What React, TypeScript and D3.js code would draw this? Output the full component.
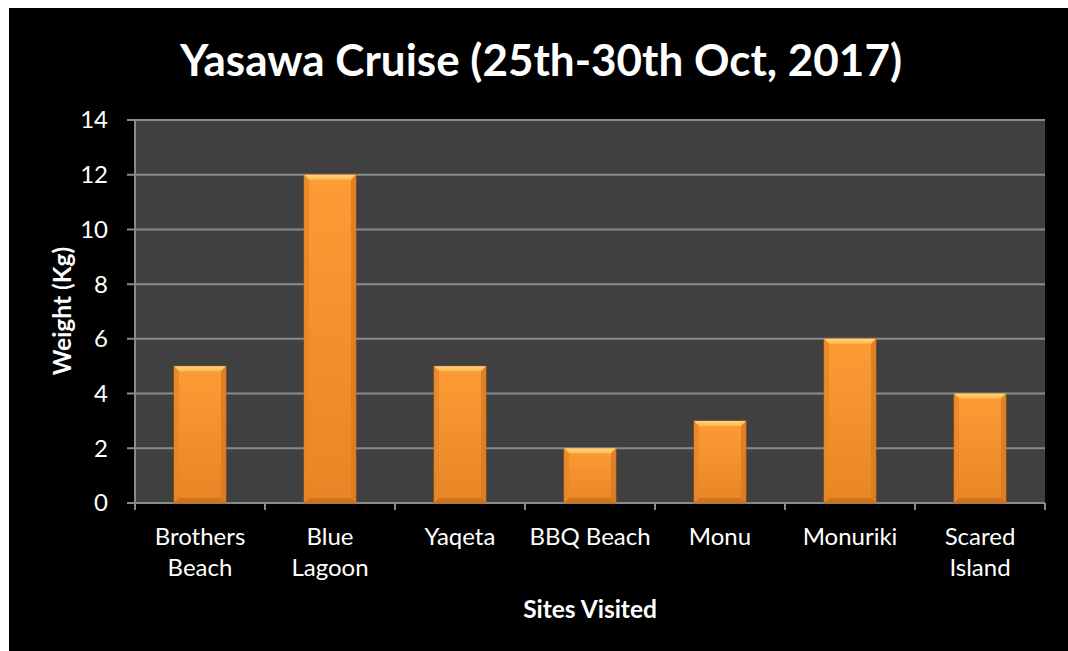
import React from "react";
import * as d3 from "d3";

const categories: string[][] = [
  ["Brothers", "Beach"],
  ["Blue", "Lagoon"],
  ["Yaqeta"],
  ["BBQ Beach"],
  ["Monu"],
  ["Monuriki"],
  ["Scared", "Island"],
];
const values: number[] = [5, 12, 5, 2, 3, 6, 4];
const yTicks: number[] = [0, 2, 4, 6, 8, 10, 12, 14];
const title = "Yasawa Cruise (25th-30th Oct, 2017)";
const xTitle = "Sites Visited";
const yTitle = "Weight (Kg)";

const OX = 9;
const OY = 8;
const W = 1150;
const H = 720;
const left = 135 - OX;
const right = 1045 - OX;
const top = 120 - OY;
const bottom = 503 - OY;
const font = "Lato, 'Open Sans', sans-serif";

export default function App() {
  const keys = categories.map((c) => c.join(" "));
  const x = d3.scaleBand<string>().domain(keys).range([left, right]).paddingInner(0.6).paddingOuter(0.3);
  const y = d3.scaleLinear().domain([0, 14]).range([bottom, top]);
  const bev = 5;
  const boundaries = d3.range(keys.length + 1).map((i) => left + i * ((right - left) / keys.length));
  return (
    <svg width={W} height={H} style={{ position: "fixed", left: OX, top: OY, display: "block" }}>
      <defs>
        <linearGradient id="barBody" x1="0" y1="0" x2="0" y2="1">
          <stop offset="0" stopColor="#FD9C36" />
          <stop offset="1" stopColor="#E88526" />
        </linearGradient>
        <linearGradient id="bevTop" x1="0" y1="0" x2="0" y2="1">
          <stop offset="0" stopColor="#FFD680" />
          <stop offset="1" stopColor="#FFB850" />
        </linearGradient>
      </defs>
      <rect x={0} y={0} width={W} height={H} fill="#000" />
      <rect x={left} y={top} width={right - left} height={bottom - top} fill="#404040" />
      {yTicks.map((t) => (
        <g key={t}>
          <line x1={left - 8} x2={right} y1={y(t)} y2={y(t)} stroke="#8a8a8a" strokeWidth={2} />
          <text x={108 - OX} y={y(t)} dy="0.35em" textAnchor="end" fill="#fff" fontFamily={font} fontSize={24}>
            {t}
          </text>
        </g>
      ))}
      <line x1={left} x2={left} y1={top} y2={bottom} stroke="#8a8a8a" strokeWidth={2} />
      {boundaries.map((b, i) => (
        <line key={i} x1={b} x2={b} y1={bottom} y2={bottom + 7} stroke="#8a8a8a" strokeWidth={2} />
      ))}
      {keys.map((k, i) => {
        const bx = x(k)!;
        const bw = x.bandwidth();
        const by = y(values[i]);
        const bh = bottom - by;
        return (
          <g key={k}>
            <rect x={bx} y={by} width={bw} height={bh} fill="url(#barBody)" stroke="#B8661A" strokeWidth={0.8} />
            <polygon
              points={`${bx},${by} ${bx + bw},${by} ${bx + bw - bev},${by + bev} ${bx + bev},${by + bev}`}
              fill="url(#bevTop)"
            />
            <polygon
              points={`${bx},${by} ${bx + bev},${by + bev} ${bx + bev},${by + bh - bev} ${bx},${by + bh}`}
              fill="#E98627"
              opacity={0.8}
            />
            <polygon
              points={`${bx + bw},${by} ${bx + bw - bev},${by + bev} ${bx + bw - bev},${by + bh - bev} ${bx + bw},${by + bh}`}
              fill="#D97A20"
              opacity={0.8}
            />
            <polygon
              points={`${bx},${by + bh} ${bx + bev},${by + bh - bev} ${bx + bw - bev},${by + bh - bev} ${bx + bw},${by + bh}`}
              fill="#C96E1C"
              opacity={0.8}
            />
            <text y={537 - OY} textAnchor="middle" fill="#fff" fontFamily={font} fontSize={24}>
              {categories[i].map((line, j) => (
                <tspan key={j} x={bx + bw / 2} dy={j === 0 ? "0.35em" : 31}>
                  {line}
                </tspan>
              ))}
            </text>
          </g>
        );
      })}
      <text x={541 - OX} y={61 - OY} dy="0.35em" textAnchor="middle" fill="#fff" fontFamily={font} fontWeight="bold" fontSize={44}>
        {title}
      </text>
      <text x={590 - OX} y={609 - OY} dy="0.35em" textAnchor="middle" fill="#fff" fontFamily={font} fontWeight="bold" fontSize={24.5}>
        {xTitle}
      </text>
      <text
        transform={`translate(${62 - OX},${311 - OY}) rotate(-90)`}
        dy="0.35em"
        textAnchor="middle"
        fill="#fff"
        fontFamily={font}
        fontWeight="bold"
        fontSize={24.5}
      >
        {yTitle}
      </text>
    </svg>
  );
}
